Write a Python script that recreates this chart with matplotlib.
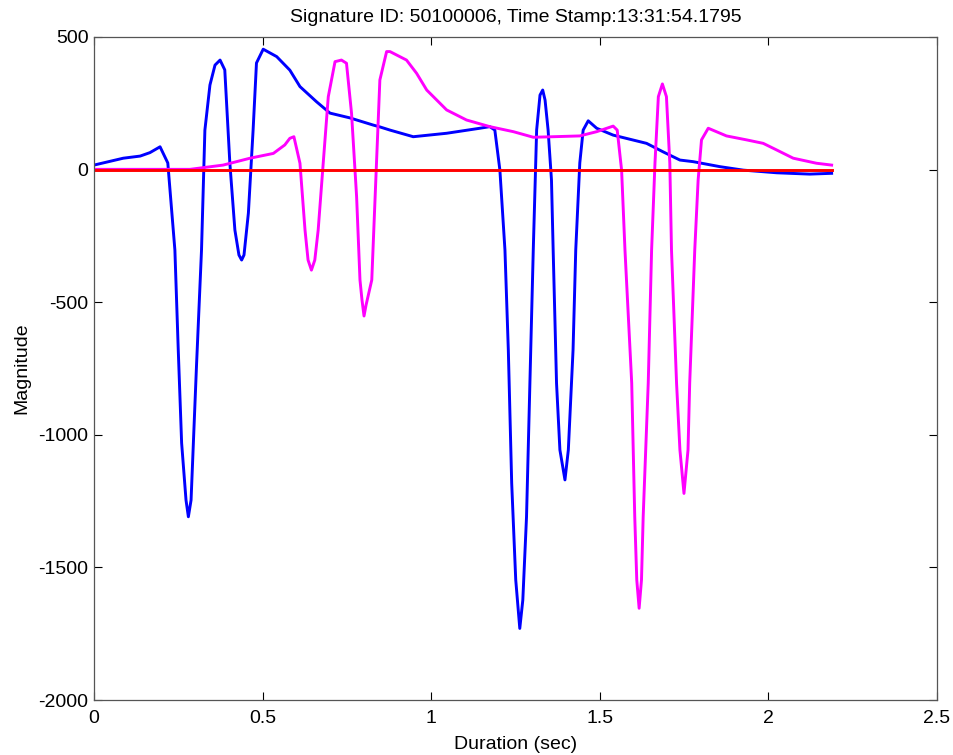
import matplotlib.pyplot as plt

plt.rcParams['font.family'] = ['Liberation Sans', 'DejaVu Sans']
plt.rcParams['axes.unicode_minus'] = False

# blue signal (x in sec, magnitude)
blue_t = [0.0, 0.087, 0.137, 0.166, 0.196, 0.219, 0.240, 0.250, 0.260, 0.273, 0.280, 0.288,
          0.294, 0.304, 0.319, 0.329, 0.344, 0.359, 0.374, 0.388, 0.403, 0.418, 0.430, 0.438,
          0.445, 0.458, 0.472, 0.482, 0.502, 0.542, 0.581, 0.611, 0.660, 0.700, 0.759, 0.828,
          0.848, 0.878, 0.947, 1.046, 1.145, 1.174, 1.189, 1.204, 1.219, 1.229, 1.239, 1.251,
          1.263, 1.272, 1.283, 1.293, 1.303, 1.313, 1.323, 1.331, 1.338, 1.347, 1.357, 1.362,
          1.372, 1.382, 1.397, 1.407, 1.421, 1.429, 1.441, 1.451, 1.466, 1.491, 1.540, 1.639,
          1.688, 1.738, 1.777, 1.857, 1.926, 2.025, 2.123, 2.188]
blue_v = [17, 43, 51, 64, 86, 25, -303, -680, -1031, -1246, -1309, -1246,
          -1057, -743, -303, 149, 319, 394, 413, 376, 25, -228, -322, -341,
          -322, -164, 149, 402, 454, 426, 375, 313, 256, 213, 195, 168,
          161, 149, 124, 137, 156, 162, 149, -2, -303, -680, -1182, -1547,
          -1730, -1623, -1309, -805, -303, 149, 281, 300, 262, 149, -39, -303,
          -805, -1057, -1170, -1057, -680, -303, 25, 149, 184, 156, 130, 99,
          67, 36, 30, 11, -2, -12, -17, -14]

# magenta signal
mag_t = [0.0, 0.285, 0.383, 0.463, 0.532, 0.566, 0.581, 0.593, 0.611, 0.626, 0.635, 0.645,
         0.655, 0.665, 0.680, 0.695, 0.715, 0.734, 0.749, 0.764, 0.779, 0.789, 0.795, 0.801,
         0.807, 0.824, 0.838, 0.848, 0.868, 0.878, 0.927, 0.957, 0.987, 1.046, 1.105, 1.174,
         1.244, 1.303, 1.362, 1.441, 1.491, 1.540, 1.552, 1.565, 1.575, 1.595, 1.604, 1.610,
         1.617, 1.624, 1.629, 1.644, 1.654, 1.664, 1.674, 1.686, 1.698, 1.708, 1.713, 1.728,
         1.738, 1.750, 1.762, 1.767, 1.782, 1.792, 1.802, 1.822, 1.876, 1.936, 1.985, 2.025,
         2.074, 2.143, 2.188]
mag_v = [1, 1, 17, 43, 61, 93, 118, 124, 24, -228, -341, -379,
         -341, -228, 25, 275, 407, 413, 401, 212, -102, -416, -492, -552,
         -511, -416, 25, 338, 445, 445, 413, 363, 300, 225, 187, 162,
         143, 122, 124, 127, 143, 164, 149, -2, -303, -805, -1309, -1547,
         -1654, -1547, -1309, -805, -303, 25, 275, 323, 275, 25, -303, -805,
         -1057, -1221, -1057, -805, -303, -39, 112, 156, 127, 112, 99, 74,
         43, 24, 17]

# red baseline
red_t = [0.0, 2.188]
red_v = [0, 0]

fig = plt.figure(figsize=(9.54, 7.55), dpi=100)
ax = fig.add_axes([0.0985, 0.0728, 0.8835, 0.8782])

ax.plot(blue_t, blue_v, color='#0000ff', lw=2.1)
ax.plot(mag_t, mag_v, color='#ff00ff', lw=2.1)
ax.plot(red_t, red_v, color='#ff0000', lw=2.1)

ax.set_xlim(0, 2.5)
ax.set_ylim(-2000, 500)
ax.set_xticks([0, 0.5, 1, 1.5, 2, 2.5])
ax.set_xticklabels(['0', '0.5', '1', '1.5', '2', '2.5'])
ax.set_yticks([-2000, -1500, -1000, -500, 0, 500])
ax.tick_params(direction='in', top=True, right=True, labelsize=14, length=6, width=0.8)
ax.tick_params(axis='x', pad=7)
ax.tick_params(axis='y', pad=4)
for s in ax.spines.values():
    s.set_color('#555555')
    s.set_linewidth(0.9)

ax.set_title('Signature ID: 50100006, Time Stamp:13:31:54.1795', fontsize=14, pad=11)
ax.set_xlabel('Duration (sec)', fontsize=14, labelpad=7)
ax.set_ylabel('Magnitude', fontsize=14, labelpad=6)

fig.savefig('out.png', dpi=100)
